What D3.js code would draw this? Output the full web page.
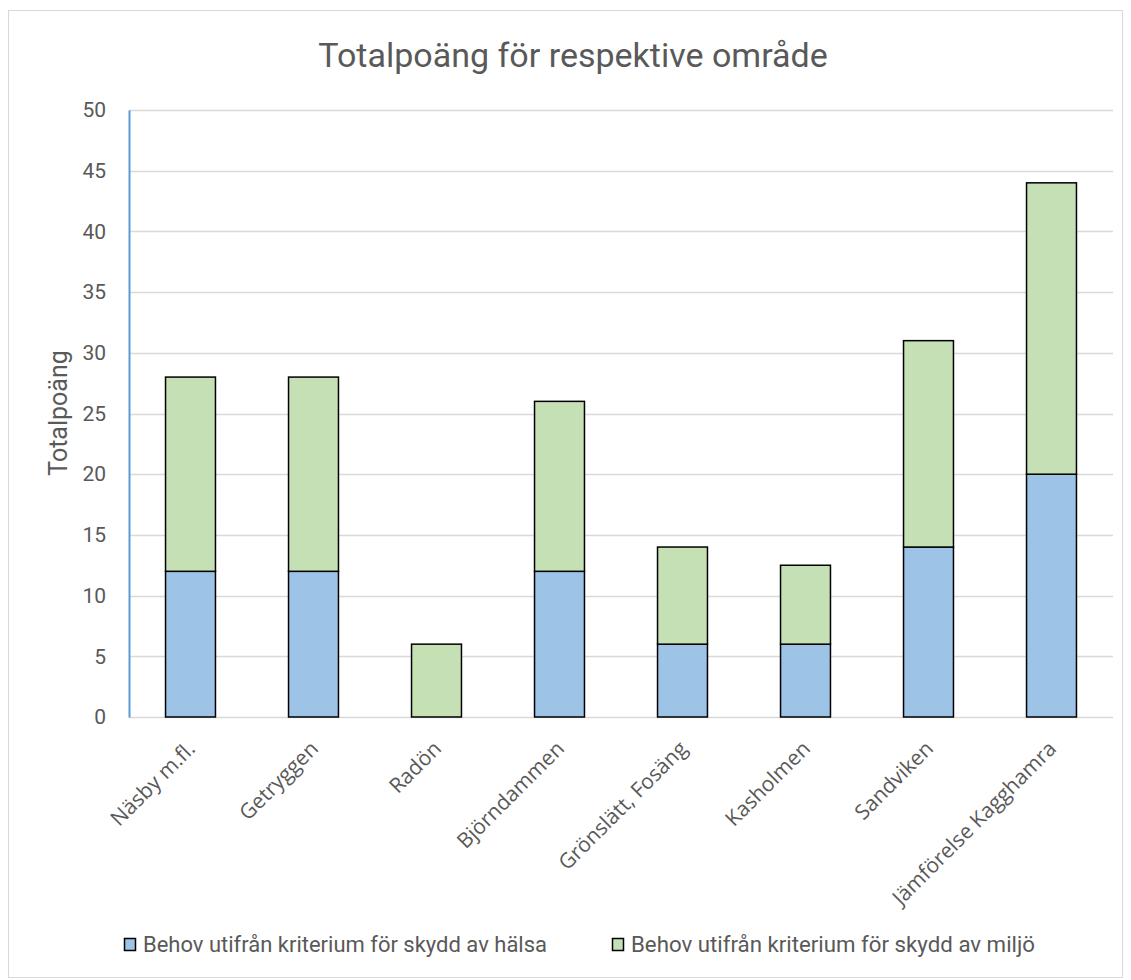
<!DOCTYPE html>
<html>
<head>
<meta charset="utf-8">
<script src="https://cdn.jsdelivr.net/npm/d3@7"></script>
<style>
  html, body { margin: 0; padding: 0; background: #fff; }
  svg { display: block; }
</style>
</head>
<body>
<svg id="chart" width="1131" height="980"></svg>
<script>
// Areas and their scores
const categories = ["Näsby m.fl.", "Getryggen", "Radön", "Björndammen", "Grönslätt, Fosäng", "Kasholmen", "Sandviken", "Jämförelse Kagghamra"];
const halsa = [12, 12, 0, 12, 6, 6, 14, 20];
const miljo = [16, 16, 6, 14, 8, 6.5, 17, 24];
const seriesNames = ["Behov utifrån kriterium för skydd av hälsa", "Behov utifrån kriterium för skydd av miljö"];
const seriesColors = ["#9DC3E6", "#C5E0B4"];
const yTicks = [0, 5, 10, 15, 20, 25, 30, 35, 40, 45, 50];

const svg = d3.select("#chart");
const textColor = "#595959";
const plot = { left: 129, right: 1113, top: 110, bottom: 717 };

// chart frame
svg.append("rect")
  .attr("x", 8.5).attr("y", 10.5).attr("width", 1114).attr("height", 967)
  .attr("fill", "#fff").attr("stroke", "#d9d9d9").attr("stroke-width", 1);

const x = d3.scaleBand().domain(categories).range([plot.left, plot.right]).paddingInner(0.594).paddingOuter(0.297);
const y = d3.scaleLinear().domain([0, 50]).range([plot.bottom, plot.top]);

// gridlines
svg.append("g")
  .selectAll("line").data(yTicks).join("line")
  .attr("x1", plot.left).attr("x2", plot.right)
  .attr("y1", d => Math.round(y(d)) + 0.5).attr("y2", d => Math.round(y(d)) + 0.5)
  .attr("stroke", "#d9d9d9").attr("stroke-width", 1.5);

// y axis
const yAxis = svg.append("g")
  .attr("transform", `translate(${plot.left},0)`)
  .call(d3.axisLeft(y).tickValues(yTicks).tickSize(0).tickPadding(23));
yAxis.select(".domain").attr("stroke", "#5B9BD5").attr("stroke-width", 2);
yAxis.selectAll("text")
  .attr("fill", textColor).style("font-family", "Roboto, sans-serif").style("font-size", "21px");

// stacked bars
const data = categories.map((c, i) => ({ cat: c, halsa: halsa[i], miljo: miljo[i] }));
const stack = d3.stack().keys(["halsa", "miljo"])(data);
svg.append("g").selectAll("g").data(stack).join("g")
  .attr("fill", (d, i) => seriesColors[i])
  .selectAll("rect").data(d => d.filter(p => p[1] - p[0] > 0)).join("rect")
  .attr("x", d => x(d.data.cat))
  .attr("y", d => y(d[1]))
  .attr("width", x.bandwidth())
  .attr("height", d => y(d[0]) - y(d[1]))
  .attr("stroke", "#000").attr("stroke-width", 1.5);

// x axis labels
const xAxis = svg.append("g")
  .attr("transform", `translate(0,${plot.bottom})`)
  .call(d3.axisBottom(x).tickSize(0).tickPadding(0));
xAxis.select(".domain").remove();
xAxis.selectAll("text")
  .attr("fill", textColor)
  .style("font-family", "'Open Sans', sans-serif").style("font-size", "21px")
  .attr("text-anchor", "end")
  .attr("dy", "0")
  .attr("transform", "translate(6,33) rotate(-45)");

// title
svg.append("text")
  .attr("x", 573).attr("y", 67)
  .attr("text-anchor", "middle")
  .attr("fill", textColor)
  .style("font-family", "Roboto, sans-serif").style("font-size", "34px")
  .text("Totalpoäng för respektive område");

// y axis title
svg.append("text")
  .attr("transform", `translate(67,413) rotate(-90)`)
  .attr("text-anchor", "middle")
  .attr("fill", textColor)
  .style("font-family", "Roboto, sans-serif").style("font-size", "25px")
  .text("Totalpoäng");

// legend
const legendX = [124, 612];
const legend = svg.append("g").selectAll("g").data(seriesNames).join("g")
  .attr("transform", (d, i) => `translate(${legendX[i]},938)`);
legend.append("rect")
  .attr("x", 0.5).attr("y", 0.5).attr("width", 11).attr("height", 12)
  .attr("fill", (d, i) => seriesColors[i]).attr("stroke", "#000").attr("stroke-width", 1.5);
legend.append("text")
  .attr("x", 19).attr("y", 14)
  .attr("fill", textColor)
  .style("font-family", "Roboto, sans-serif").style("font-size", "22px")
  .attr("textLength", 404).attr("lengthAdjust", "spacingAndGlyphs")
  .text(d => d);
</script>
</body>
</html>
